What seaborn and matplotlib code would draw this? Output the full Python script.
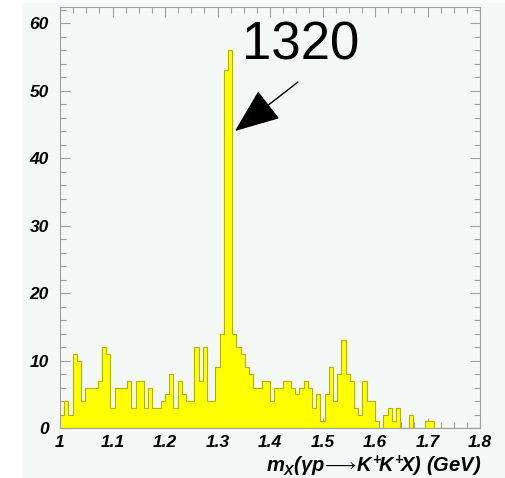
import numpy as np
import pandas as pd
import matplotlib
matplotlib.use('Agg')
import matplotlib.pyplot as plt
import seaborn as sns
from matplotlib.patches import Rectangle
from matplotlib.ticker import MultipleLocator, FixedLocator, FixedFormatter

# ---------------- data ----------------
bin_low = 1.0
bin_width = 0.008
counts = [2, 4, 2, 11, 10, 4, 6, 6, 6, 7,
          12, 11, 3, 6, 6, 6, 7, 3, 7, 7,
          3, 6, 3, 3, 4, 5, 8, 3, 7, 5,
          4, 4, 12, 7, 12, 4, 4, 9, 14, 53,
          56, 14, 12, 11, 9, 8, 6, 6, 7, 7,
          4, 6, 6, 7, 7, 6, 5, 6, 7, 6,
          3, 5, 1, 5, 9, 4, 8, 13, 8, 7,
          3, 2, 7, 4, 4, 1, 0, 2, 3, 1,
          3, 0, 0, 2, 0, 0, 0, 1, 1, 0,
          0, 0, 0, 0, 0, 0, 0, 0, 0, 0]
x_ticks = [1.0, 1.1, 1.2, 1.3, 1.4, 1.5, 1.6, 1.7, 1.8]
x_tick_labels = ['1', '1.1', '1.2', '1.3', '1.4', '1.5', '1.6', '1.7', '1.8']
y_ticks = [0, 10, 20, 30, 40, 50, 60]
y_tick_labels = ['0', '10', '20', '30', '40', '50', '60']
peak_label = '1320'
x_label = r'$m_{X}(\gamma p\!\longrightarrow\! K^{+}\!K^{+}\!X)\ (GeV)$'

edges = [bin_low + bin_width * i for i in range(len(counts) + 1)]
centers = [e + bin_width / 2 for e in edges[:-1]]
df = pd.DataFrame({'mass': centers, 'entries': counts})

# ---------------- style ----------------
sns.set_theme(style='ticks')
plt.rcParams['font.family'] = ['Liberation Sans', 'DejaVu Sans']
plt.rcParams['mathtext.fontset'] = 'custom'
plt.rcParams['mathtext.rm'] = 'Liberation Sans:italic:bold'
plt.rcParams['mathtext.it'] = 'Liberation Sans:italic:bold'
plt.rcParams['mathtext.bf'] = 'Liberation Sans:italic:bold'
plt.rcParams['mathtext.sf'] = 'Liberation Sans:italic:bold'

bg = '#f4f8f6'
frame = '#a0a0a0'

fig = plt.figure(figsize=(5.05, 4.78), dpi=100, facecolor='white')
fig.patches.append(Rectangle((22 / 505, 0), 1 - 22 / 505, 475 / 478,
                             transform=fig.transFigure, facecolor=bg,
                             edgecolor='none', zorder=-10))
ax = fig.add_axes([60 / 505, 50 / 478, (480 - 60) / 505, (428 - 7) / 478])
ax.set_facecolor(bg)

sns.histplot(data=df, x='mass', weights='entries', bins=edges,
             element='step', fill=True, color='#ffff00', alpha=1,
             edgecolor='#b4b400', linewidth=0.8, ax=ax)

ax.set_xlim(1.0, 1.8)
ax.set_ylim(0, 62.4)
ax.set_ylabel('')
ax.set_xlabel('')

ax.xaxis.set_major_locator(FixedLocator(x_ticks))
ax.xaxis.set_major_formatter(FixedFormatter(x_tick_labels))
ax.xaxis.set_minor_locator(MultipleLocator(0.025))
ax.yaxis.set_major_locator(FixedLocator(y_ticks))
ax.yaxis.set_major_formatter(FixedFormatter(y_tick_labels))
ax.yaxis.set_minor_locator(MultipleLocator(2))

ax.tick_params(which='both', direction='in', top=True, right=True,
               color=frame, width=0.8)
ax.tick_params(which='major', length=7)
ax.tick_params(which='minor', length=4)
ax.tick_params(axis='y', pad=8)
ax.tick_params(axis='x', pad=5)
for lab in ax.get_xticklabels() + ax.get_yticklabels():
    lab.set_fontweight('bold')
    lab.set_fontstyle('italic')
    lab.set_fontsize(12.5)
    lab.set_color('black')
for sp in ax.spines.values():
    sp.set_visible(True)
    sp.set_color(frame)
    sp.set_linewidth(0.8)

fig.text(481 / 505, 12 / 478, x_label, ha='right', va='center',
         fontsize=14.5, color='black')

# peak annotation
def px2data(px, py):
    return 1.0 + (px - 60) / (480 - 60) * 0.8, (428 - py) / (428 - 7) * 62.4

tip = px2data(235, 131)
tail = px2data(298, 82)
ax.annotate('', xy=tip, xytext=tail,
            arrowprops=dict(arrowstyle='-|>,head_length=1.25,head_width=0.5',
                            mutation_scale=23, color='black', lw=1.0,
                            shrinkA=0, shrinkB=0))
tx, ty = px2data(301, 46)
ax.text(tx, ty, peak_label, ha='center', va='center', fontsize=38,
        family='Liberation Sans', color='black')

fig.savefig('out.png', dpi=100, facecolor=fig.get_facecolor())
